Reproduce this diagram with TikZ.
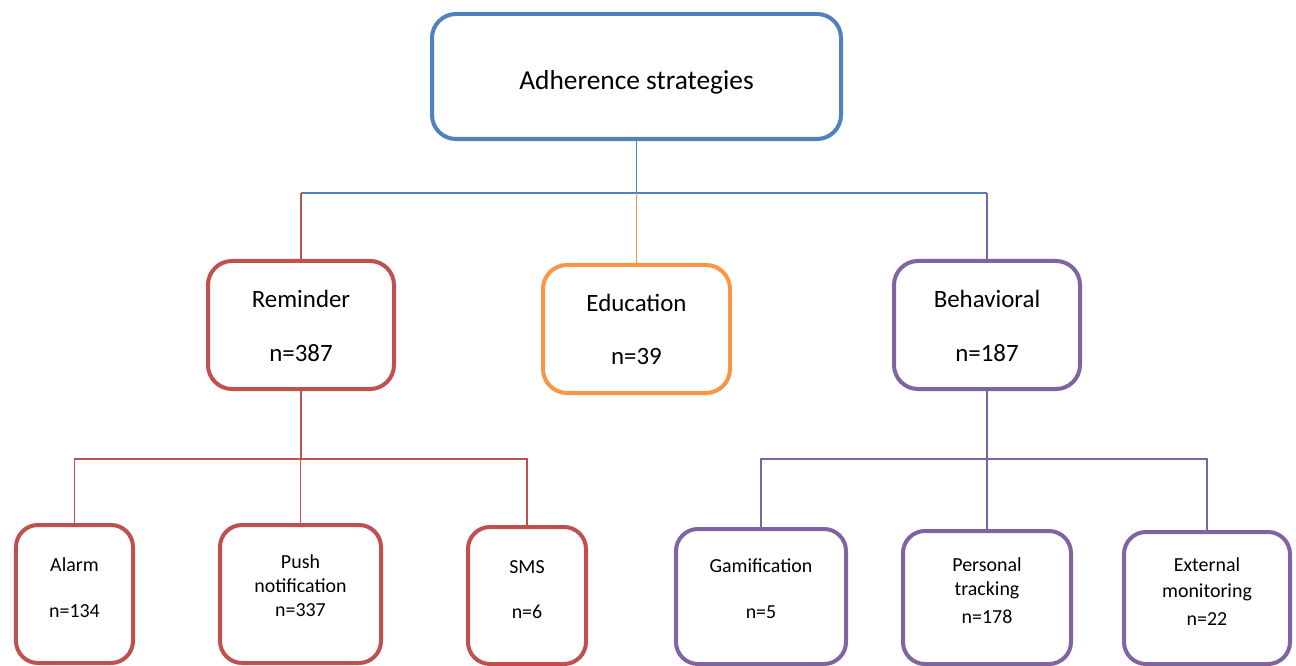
\documentclass[tikz,border=0pt]{standalone}
\usepackage{fontspec}
\setmainfont{Carlito}
\definecolor{topblue}{HTML}{4F81BD}
\definecolor{remred}{HTML}{C0504D}
\definecolor{eduorange}{HTML}{F79646}
\definecolor{behpurple}{HTML}{8064A2}
\begin{document}
\begin{tikzpicture}[x=1bp,y=-1bp,
  box/.style={draw, line width=4bp, rounded corners=24bp, fill=white, inner sep=0pt},
  leafbox/.style={box, rounded corners=22bp},
  conn/.style={line width=1.4bp},
  bigtxt/.style={anchor=base, font=\fontsize{27.5}{32}\selectfont},
  midtxt/.style={anchor=base, font=\fontsize{25}{30}\selectfont},
  smalltxt/.style={anchor=base, font=\fontsize{20}{24}\selectfont}]
\useasboundingbox (0,0) rectangle (1296,666);

% heights of the two horizontal buses
\coordinate (tbus) at (0,193);
\coordinate (rbus) at (0,459);
\coordinate (bbus) at (0,459);

% boxes
\node[box, draw=topblue, minimum width=409bp, minimum height=125bp] (top) at (636.5,76.5) {};
\node[box, draw=remred, minimum width=186bp, minimum height=128bp] (rem) at (301,325) {};
\node[box, draw=eduorange, minimum width=187bp, minimum height=128bp] (edu) at (636.5,329) {};
\node[box, draw=behpurple, minimum width=186bp, minimum height=128bp] (beh) at (987,325) {};

\node[leafbox, draw=remred, minimum width=117bp, minimum height=138bp] (alarm) at (74.5,594) {};
\node[leafbox, draw=remred, minimum width=161bp, minimum height=138bp] (push) at (300.5,594) {};
\node[leafbox, draw=remred, minimum width=118bp, minimum height=137bp] (sms) at (527,595.5) {};
\node[leafbox, draw=behpurple, minimum width=170bp, minimum height=135bp] (gam) at (761,596.5) {};
\node[leafbox, draw=behpurple, minimum width=168bp, minimum height=133bp] (pers) at (987,597.5) {};
\node[leafbox, draw=behpurple, minimum width=166bp, minimum height=132bp] (ext) at (1207,598) {};

% connectors from the root
\draw[conn, topblue] (top.south) -- (top.south |- tbus);
\draw[conn, topblue] (rem.north |- tbus) -- (beh.north |- tbus);
\draw[conn, remred] (rem.north |- tbus) -- (rem.north);
\draw[conn, eduorange] (edu.north |- tbus) -- (edu.north);
\draw[conn, behpurple] (beh.north |- tbus) -- (beh.north);

% reminder branch
\draw[conn, remred] (rem.south) -- (rem.south |- rbus);
\draw[conn, remred] (alarm.north) -- (alarm.north |- rbus) -- (sms.north |- rbus) -- (sms.north);
\draw[conn, remred] (push.north |- rbus) -- (push.north);

% behavioral branch
\draw[conn, behpurple] (beh.south) -- (beh.south |- bbus);
\draw[conn, behpurple] (gam.north) -- (gam.north |- bbus) -- (ext.north |- bbus) -- (ext.north);
\draw[conn, behpurple] (pers.north |- bbus) -- (pers.north);

% labels
\node[bigtxt] (ttop) at (636.5,90) {Adherence strategies};

\node[midtxt] (trem1) at (301,307) {Reminder};
\node[midtxt] (trem2) at (301,361) {n=387};
\node[midtxt] (tedu1) at (636.5,311) {Education};
\node[midtxt] (tedu2) at (636.5,364) {n=39};
\node[midtxt] (tbeh1) at (987,307) {Behavioral};
\node[midtxt] (tbeh2) at (987,361) {n=187};

\node[smalltxt] (tal1) at (74.5,571) {Alarm};
\node[smalltxt] (tal2) at (74.5,617) {n=134};
\node[smalltxt] (tpu1) at (300.5,568) {Push};
\node[smalltxt] (tpu2) at (300.5,592) {notification};
\node[smalltxt] (tpu3) at (300.5,616) {n=337};
\node[smalltxt] (tsm1) at (527,573) {SMS};
\node[smalltxt] (tsm2) at (527,618) {n=6};
\node[smalltxt] (tga1) at (761,572) {Gamification};
\node[smalltxt] (tga2) at (761,618) {n=5};
\node[smalltxt] (tpe1) at (987,571) {Personal};
\node[smalltxt] (tpe2) at (987,595) {tracking};
\node[smalltxt] (tpe3) at (987,623) {n=178};
\node[smalltxt] (tex1) at (1207,571) {External};
\node[smalltxt] (tex2) at (1207,597) {monitoring};
\node[smalltxt] (tex3) at (1207,625) {n=22};
\end{tikzpicture}
\end{document}
